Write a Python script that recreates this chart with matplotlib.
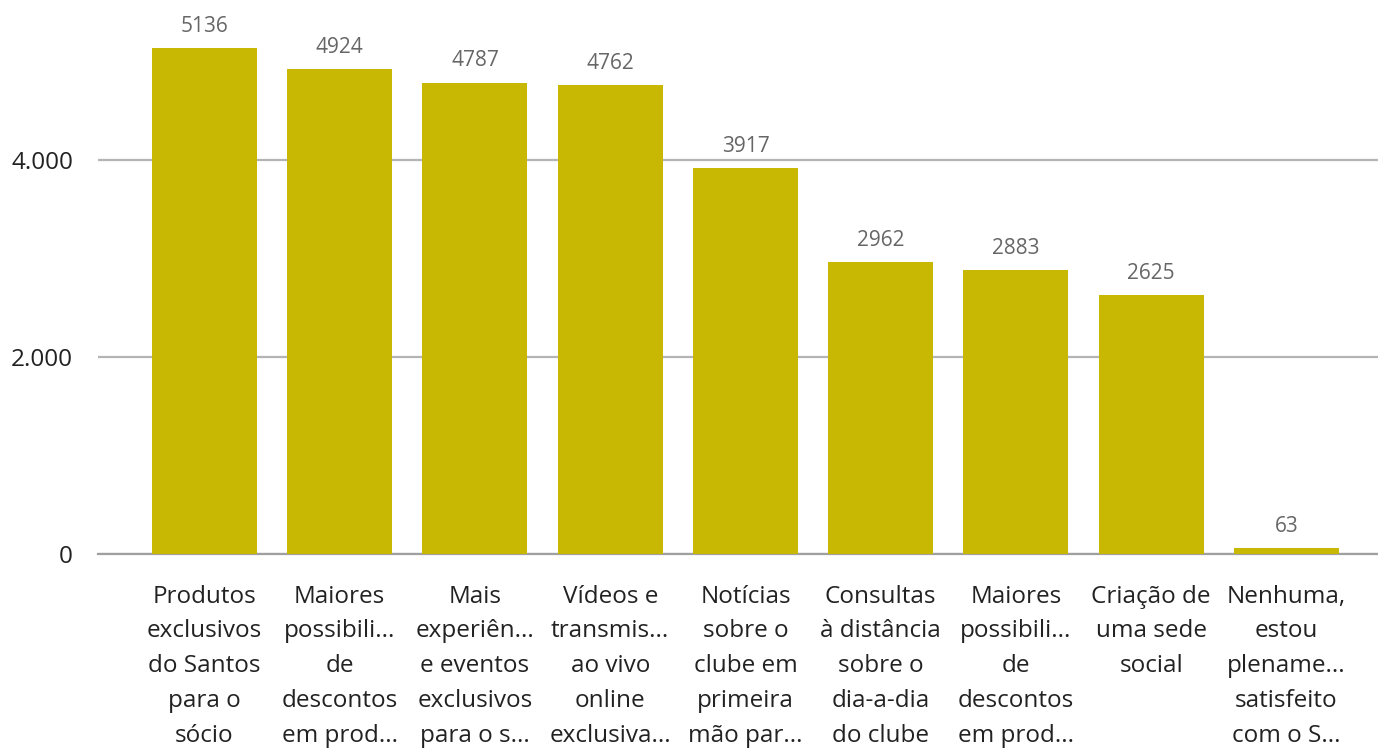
import numpy as np
import matplotlib.pyplot as plt
from matplotlib.ticker import FuncFormatter

plt.rcParams['font.family'] = ['Open Sans', 'DejaVu Sans']

categories = [
    "Produtos\nexclusivos\ndo Santos\npara o\nsócio",
    "Maiores\npossibili...\nde\ndescontos\nem prod...",
    "Mais\nexperiên...\ne eventos\nexclusivos\npara o s...",
    "Vídeos e\ntransmis...\nao vivo\nonline\nexclusiva...",
    "Notícias\nsobre o\nclube em\nprimeira\nmão par...",
    "Consultas\nà distância\nsobre o\ndia-a-dia\ndo clube",
    "Maiores\npossibili...\nde\ndescontos\nem prod...",
    "Criação de\numa sede\nsocial",
    "Nenhuma,\nestou\nplename...\nsatisfeito\ncom o S...",
]
values = [5136, 4924, 4787, 4762, 3917, 2962, 2883, 2625, 63]
yticks = [0, 2000, 4000]

bar_color = "#c8b804"

fig = plt.figure(figsize=(13.78, 7.51), dpi=100)
ax = fig.add_axes([98 / 1378, 197 / 751, 1 - 98 / 1378, 554 / 751])

x = np.arange(len(values))
bars = ax.bar(x, values, width=0.776, color=bar_color, zorder=3)

for xi, v in zip(x, values):
    ax.annotate(str(v), (xi, v), xytext=(0, 8), textcoords="offset points",
                ha="center", va="bottom", fontsize=15, color="#666666")

ax.set_xlim(-0.787, 8.677)
ax.set_ylim(0, 5625)
ax.set_yticks(yticks)
ax.yaxis.set_major_formatter(FuncFormatter(lambda v, p: f"{int(v):,}".replace(",", ".")))
ax.set_xticks(x)
ax.set_xticklabels(categories, fontsize=17.5, color="#222222", linespacing=1.6)
ax.tick_params(axis="x", length=0, pad=22)
ax.tick_params(axis="y", length=0, pad=18, labelsize=17.5, labelcolor="#222222")

ax.grid(axis="y", color="#b4b4b4", linewidth=1.6, zorder=0)
for s in ["top", "right", "left"]:
    ax.spines[s].set_visible(False)
ax.spines["bottom"].set_color("#a0a0a0")
ax.spines["bottom"].set_linewidth(1.6)

fig.savefig("out.png", dpi=100)
